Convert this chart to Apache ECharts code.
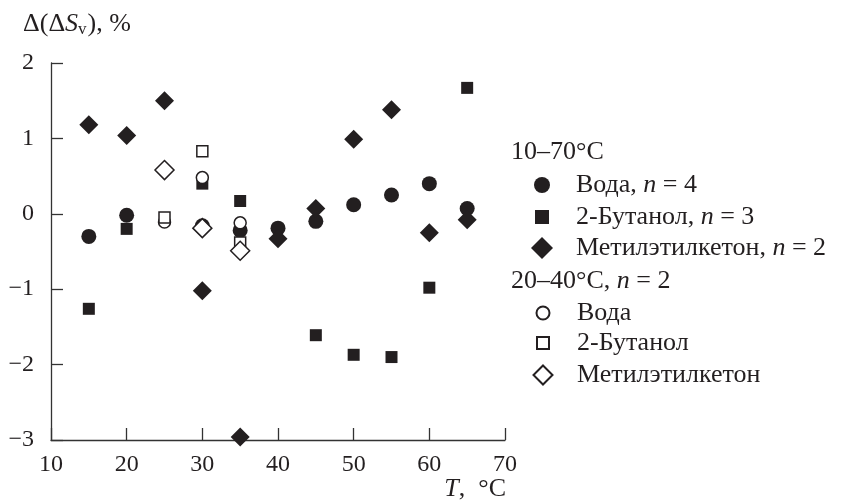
<!DOCTYPE html>
<html>
<head>
<meta charset="utf-8">
<script src="https://cdn.jsdelivr.net/npm/echarts@6/dist/echarts.min.js"></script>
<style>
  html, body { margin: 0; padding: 0; background: #fff; }
  #chart { width: 853px; height: 501px; }
</style>
</head>
<body>
<div id="chart"></div>
<script>
// temperatures, °C
const temps = [15, 20, 25, 30, 35, 40, 45, 50, 55, 60, 65];
// 10–70°C series (null = no point)
const water1070 = [-0.30, -0.02, null, -0.16, -0.22, -0.19, -0.10, 0.12, 0.25, 0.40, 0.07];
const butanol1070 = [-1.26, -0.20, null, 0.40, 0.17, null, -1.61, -1.87, -1.90, -0.98, 1.67];
const mek1070 = [1.18, 1.04, 1.50, -1.02, -2.96, -0.33, 0.07, 0.99, 1.38, -0.25, -0.08];
// 20–40°C series
const temps2040 = [25, 30, 35];
const water2040 = [-0.11, 0.48, -0.12];
const butanol2040 = [-0.05, 0.83, -0.38];
const mek2040 = [0.58, -0.19, -0.49];

const names = [
  'Вода, {i|n} = 4',
  '2-Бутанол, {i|n} = 3',
  'Метилэтилкетон, {i|n} = 2',
  'Вода',
  '2-Бутанол',
  'Метилэтилкетон'
];

const ink = '#231f20';
const font = 'Liberation Serif';
const fs = 26;

function pairs(xs, ys) {
  let out = [];
  xs.forEach((x, i) => {
    if (ys[i] !== null) out.push([x, ys[i]]);
  });
  return out;
}

const filled = { color: ink, opacity: 1 };
const open = { color: '#fff', borderColor: ink, borderWidth: 1.5, opacity: 1 };

const series = [
  { name: names[0], data: pairs(temps, water1070), symbol: 'circle', symbolSize: 15, itemStyle: filled },
  { name: names[1], data: pairs(temps, butanol1070), symbol: 'rect', symbolSize: 12, itemStyle: filled },
  { name: names[2], data: pairs(temps, mek1070), symbol: 'diamond', symbolSize: 19, itemStyle: filled },
  { name: names[3], data: pairs(temps2040, water2040), symbol: 'circle', symbolSize: 12, itemStyle: open },
  { name: names[4], data: pairs(temps2040, butanol2040), symbol: 'rect', symbolSize: 11, itemStyle: open },
  { name: names[5], data: pairs(temps2040, mek2040), symbol: 'diamond', symbolSize: 19, itemStyle: open }
].map(s => Object.assign({ type: 'scatter', silent: true }, s));

// one legend per row, so each icon can have its own size
const iconX = 542, textX = 576;
const legendRows = [
  { icon: 'circle', size: 16, cy: 185 },
  { icon: 'rect', size: 14, cy: 217 },
  { icon: 'diamond', size: 22, cy: 248 },
  { icon: 'circle', size: 13, cy: 313 },
  { icon: 'rect', size: 12, cy: 343 },
  { icon: 'diamond', size: 19, cy: 375 }
];
const legends = legendRows.map((r, i) => ({
  data: [{ name: names[i], icon: r.icon }],
  left: iconX - r.size / 2,
  top: r.cy - 14,
  padding: 0,
  itemWidth: r.size,
  itemHeight: r.size,
  itemGap: 0,
  selectedMode: false,
  formatter: n => n,
  textStyle: {
    fontFamily: font, fontSize: fs, color: ink, lineHeight: 28,
    padding: [0, 0, 0, textX - (iconX + r.size / 2 + 5)],
    rich: { i: { fontFamily: font, fontSize: fs, fontStyle: 'italic', color: ink, lineHeight: 28 } }
  }
}));

const txt = { fontFamily: font, fontSize: 24, color: ink };
const axisColor = '#333';

let chart = echarts.init(document.getElementById('chart'));
chart.setOption({
  animation: false,
  grid: { left: 51, right: 348, top: 63, bottom: 61 },
  xAxis: {
    type: 'value', min: 10, max: 70, interval: 10,
    axisLine: { onZero: false, lineStyle: { color: axisColor, width: 1.3 } },
    axisTick: { inside: true, length: 12, lineStyle: { color: axisColor, width: 1.3 } },
    axisLabel: Object.assign({ margin: 13 }, txt),
    splitLine: { show: false }
  },
  yAxis: {
    type: 'value', min: -3, max: 2, interval: 1,
    axisLine: { show: true, onZero: false, lineStyle: { color: axisColor, width: 1.3 } },
    axisTick: { show: true, inside: true, length: 12, lineStyle: { color: axisColor, width: 1.3 } },
    axisLabel: Object.assign({ margin: 17, formatter: v => String(v).replace('-', '−') }, txt),
    splitLine: { show: false }
  },
  legend: legends,
  graphic: [
    {
      type: 'text', left: 23, top: 11,
      style: {
        text: 'Δ(Δ{i|S}{sub|v}), %',
        font: fs + 'px "' + font + '"', fill: ink,
        rich: {
          i: { fontFamily: font, fontSize: fs, fontStyle: 'italic', fill: ink },
          sub: { fontFamily: font, fontSize: 17, fill: ink, padding: [12, 1, 0, 0] }
        }
      }
    },
    {
      type: 'text', left: 511, top: 153 - 14,
      style: { text: '10–70°C', font: fs + 'px "' + font + '"', fill: ink }
    },
    {
      type: 'text', left: 511, top: 282 - 14,
      style: {
        text: '20–40°C, {i|n} = 2', font: fs + 'px "' + font + '"', fill: ink,
        rich: { i: { fontFamily: font, fontSize: fs, fontStyle: 'italic', fill: ink } }
      }
    },
    {
      type: 'text', right: 853 - 506, top: 490 - 14,
      style: {
        text: '{i|T},  °C', font: fs + 'px "' + font + '"', fill: ink,
        rich: { i: { fontFamily: font, fontSize: fs, fontStyle: 'italic', fill: ink } }
      }
    }
  ],
  series: series
});
</script>
</body>
</html>
